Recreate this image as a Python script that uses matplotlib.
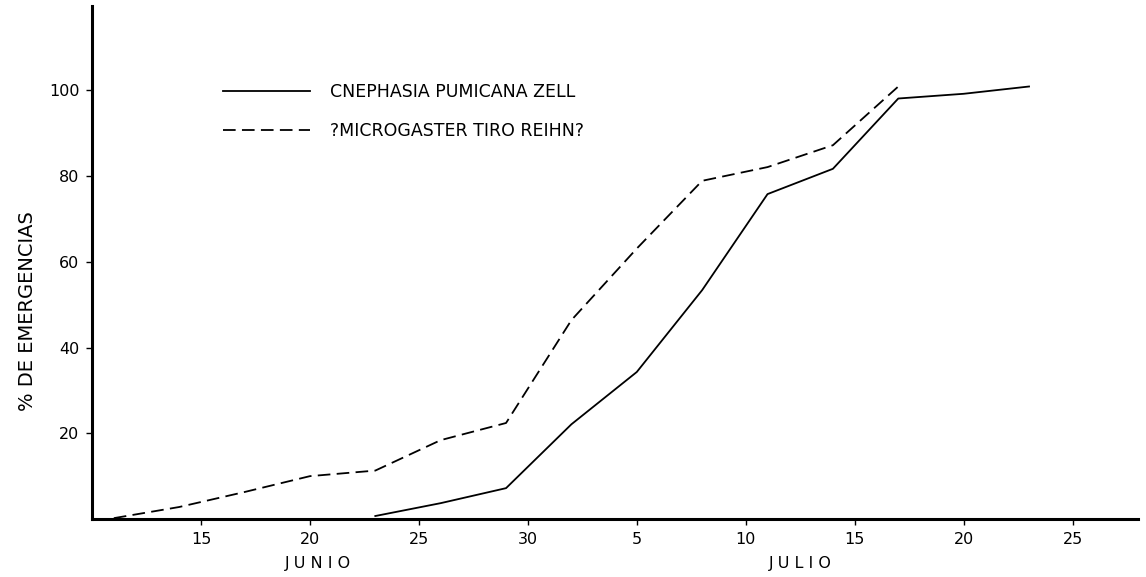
import numpy as np
import matplotlib
matplotlib.use('Agg')
import matplotlib.pyplot as plt
import matplotlib.transforms as mtransforms

# dias: junio d -> d, julio d -> 30 + d
dias_cnephasia = [23, 26, 29, 32, 35, 38, 41, 44, 47, 50, 53]
pct_cnephasia = [0.7, 3.7, 7.2, 22.1, 34.3, 53.4, 75.8, 81.7, 98.1, 99.2, 100.9]

dias_microgaster = [11, 14, 17, 20, 23, 26, 29, 32, 35, 38, 41, 44, 47]
pct_microgaster = [0.2, 2.8, 6.3, 10.0, 11.3, 18.4, 22.4, 46.4, 63.1, 78.9, 82.1, 87.2, 100.9]

xtick_pos = [15, 20, 25, 30, 35, 40, 45, 50, 55]
xtick_lab = ['15', '20', '25', '30', '5', '10', '15', '20', '25']
ytick_pos = [20, 40, 60, 80, 100]

plt.rcParams['font.family'] = ['DejaVu Sans']

fig = plt.figure(figsize=(11.46, 5.77), dpi=100)
ax = fig.add_axes([0.0803, 0.1005, 0.9127, 0.8885])

ax.plot(dias_cnephasia, pct_cnephasia, color='black', lw=1.3,
        label='CNEPHASIA PUMICANA ZELL')
ax.plot(dias_microgaster, pct_microgaster, color='black', lw=1.3,
        linestyle=(0, (7, 3.5)), label='?MICROGASTER TIRO REIHN?')

ax.set_xlim(10, 58)
ax.set_ylim(0, 119.6)

ax.spines['top'].set_visible(False)
ax.spines['right'].set_visible(False)
ax.spines['left'].set_linewidth(2.2)
ax.spines['bottom'].set_linewidth(2.2)

ax.set_xticks(xtick_pos)
ax.set_xticklabels(xtick_lab)
ax.set_yticks(ytick_pos)
ax.tick_params(axis='both', labelsize=11.5, length=4, width=1, pad=5)

trans = mtransforms.blended_transform_factory(ax.transData, ax.transAxes)
ax.text(20.35, -0.086, 'J U N I O', transform=trans, ha='center', va='center', fontsize=11.5)
ax.text(42.5, -0.086, 'J U L I O', transform=trans, ha='center', va='center', fontsize=11.5)

ax.text(-0.062, 0.405, '% DE EMERGENCIAS', transform=ax.transAxes, rotation=90,
        ha='center', va='center', fontsize=14)

ax.legend(loc='center left', bbox_to_anchor=(0.125, 0.795), frameon=False,
          borderaxespad=0, borderpad=0, handlelength=5.0, handletextpad=1.2,
          labelspacing=1.2, fontsize=12.5)

fig.savefig('out.png', dpi=100)
